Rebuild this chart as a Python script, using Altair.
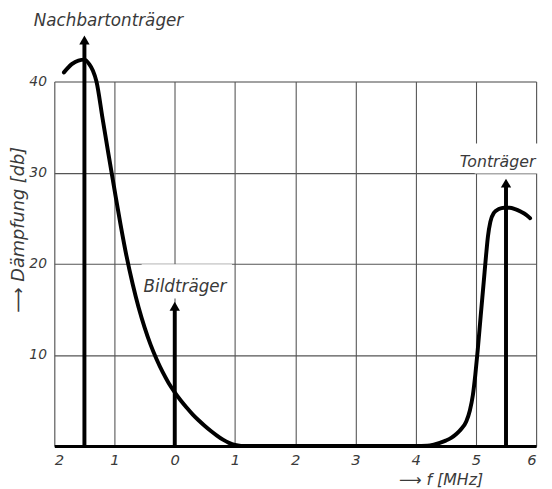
import altair as alt
import pandas as pd

# Damping curve (x in MHz relative to picture carrier, y in dB)
curve_x = [-1.84, -1.71, -1.60, -1.50, -1.42, -1.36, -1.30, -1.20, -1.10, -1.00, -0.90,
           -0.80, -0.70, -0.60, -0.50, -0.40, -0.30, -0.20, -0.10, 0.00, 0.10, 0.20,
           0.30, 0.40, 0.50, 0.60, 0.70, 0.80, 0.90, 1.00, 1.10, 1.20, 2.0, 3.0, 4.0,
           4.19, 4.30, 4.40, 4.50, 4.59, 4.68, 4.76, 4.84, 4.90, 4.95, 4.99, 5.03, 5.08,
           5.13, 5.17, 5.20, 5.24, 5.30, 5.38, 5.47, 5.56, 5.65, 5.75, 5.83, 5.90]
curve_y = [41.0, 41.9, 42.3, 42.4, 41.9, 41.2, 40.0, 36.0, 32.0, 28.1, 24.3,
           20.8, 17.8, 15.2, 13.0, 11.1, 9.5, 8.1, 6.9, 5.9, 5.0, 4.2,
           3.45, 2.8, 2.2, 1.65, 1.15, 0.7, 0.35, 0.12, 0.02, 0.0, 0.0, 0.0, 0.0,
           0.03, 0.15, 0.35, 0.6, 0.9, 1.35, 1.9, 2.7, 3.9, 5.6, 7.8, 10.5, 14.3,
           18.0, 21.0, 23.0, 24.6, 25.6, 26.0, 26.15, 26.15, 26.0, 25.7, 25.4, 25.0]

# Carrier arrows
arrow_x = [-1.5, 0.0, 5.5]
arrow_tip = [45.1, 15.9, 29.4]

# Labels
label_text = ["Nachbartonträger", "Bildträger", "Tonträger"]
label_x = [-1.1, 0.17, 4.73]
label_y = [46.6, 17.4, 31.2]
label_align = ["center", "center", "left"]

# white label backgrounds (gaps in the grid)
blank_x = [-0.55, 4.98]
blank_x2 = [0.95, 6.1]
blank_y = [16.2, 29.9]
blank_y2 = [19.95, 33.2]

x_ticks = [-2, -1, 0, 1, 2, 3, 4, 5, 6]
y_ticks = [0, 10, 20, 30, 40]

FONT = "DejaVu Sans"
TXT = "#3a3a3a"

curve_df = pd.DataFrame({"f": curve_x, "d": curve_y})
arrow_df = pd.DataFrame({"f": arrow_x, "tip": arrow_tip})
arrow_df["base"] = 0.0
arrow_df["head"] = arrow_df["tip"] - 0.55
label_df = pd.DataFrame({"t": label_text, "f": label_x, "d": label_y, "a": label_align})
blank_df = pd.DataFrame({"x": blank_x, "x2": blank_x2, "y": blank_y, "y2": blank_y2})

xs = alt.Scale(domain=[-2, 6], nice=False, zero=False)
ys = alt.Scale(domain=[0, 40], nice=False, zero=False)

x_axis = alt.Axis(values=x_ticks, labelExpr="abs(datum.value)", grid=True, ticks=False,
                  domain=True, domainColor="black", domainWidth=3,
                  gridColor="#555", gridWidth=1.1, labelFont=FONT, labelFontStyle="italic",
                  labelFontSize=15, labelColor=TXT, labelPadding=7,
                  title="⟶  f [MHz]", titleFont=FONT, titleFontStyle="italic",
                  titleFontWeight="normal", titleFontSize=16, titleColor=TXT,
                  titleX=392, titleY=39, titleAlign="center", titleBaseline="alphabetic")
y_axis = alt.Axis(values=y_ticks, labelExpr="datum.value == 0 ? '' : datum.label",
                  grid=True, ticks=False, domain=False, gridColor="#555", gridWidth=1.1,
                  labelFont=FONT, labelFontStyle="italic", labelFontSize=14, labelColor=TXT,
                  labelPadding=8,
                  title="⟶  Dämpfung [db]", titleFont=FONT, titleFontStyle="italic",
                  titleFontWeight="normal", titleFontSize=18, titleColor=TXT,
                  titleX=-31, titleY=150, titleAngle=270, titleAlign="center",
                  titleBaseline="alphabetic")

base_grid = alt.Chart(curve_df).mark_line(opacity=0).encode(
    x=alt.X("f:Q", scale=xs, axis=x_axis),
    y=alt.Y("d:Q", scale=ys, axis=y_axis),
)

blanks = alt.Chart(blank_df).mark_rect(color="white").encode(
    x=alt.X("x:Q", scale=xs), x2="x2:Q", y=alt.Y("y:Q", scale=ys), y2="y2:Q")

curve = alt.Chart(curve_df).mark_line(color="black", strokeWidth=4, interpolate="monotone",
                                      strokeCap="round").encode(
    x=alt.X("f:Q", scale=xs), y=alt.Y("d:Q", scale=ys))

rules = alt.Chart(arrow_df).mark_rule(color="black", strokeWidth=4).encode(
    x=alt.X("f:Q", scale=xs), y=alt.Y("base:Q", scale=ys), y2="head:Q")

heads = alt.Chart(arrow_df).mark_point(shape="triangle-up", filled=True, color="black",
                                       size=110, opacity=1).encode(
    x=alt.X("f:Q", scale=xs), y=alt.Y("head:Q", scale=ys))

labels_c = alt.Chart(label_df[label_df["a"] == "center"]).mark_text(
    font=FONT, fontStyle="italic", fontSize=17, color=TXT, align="center",
    baseline="middle").encode(x=alt.X("f:Q", scale=xs), y=alt.Y("d:Q", scale=ys), text="t:N")
labels_l = alt.Chart(label_df[label_df["a"] == "left"]).mark_text(
    font=FONT, fontStyle="italic", fontSize=16, color=TXT, align="left",
    baseline="middle").encode(x=alt.X("f:Q", scale=xs), y=alt.Y("d:Q", scale=ys), text="t:N")

chart = alt.layer(base_grid, blanks, curve, rules, heads, labels_c, labels_l).properties(
    width=489, height=370,
    autosize=alt.AutoSizeParams(type="none"),
    padding={"left": 47, "top": 71, "right": 8, "bottom": 40},
).configure_view(stroke=None).configure(background="white")

chart.save("out.html", embed_options={"renderer": "svg", "actions": False})
